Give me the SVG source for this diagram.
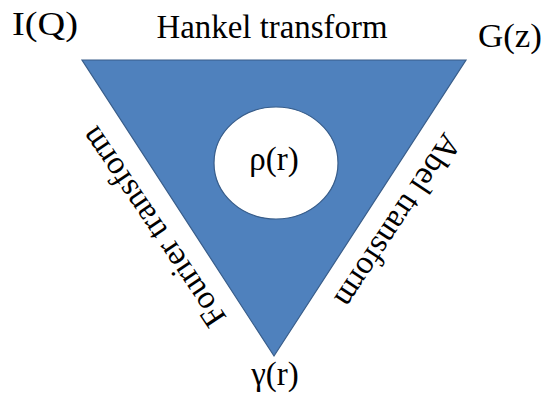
<svg xmlns="http://www.w3.org/2000/svg" width="543" height="394" viewBox="0 0 543 394">
<style>
text{font-family:'Liberation Serif','Times New Roman',serif;font-size:33px;fill:#000;}
.c{text-anchor:middle;}
.shape{fill:#4F81BD;stroke:#385D8A;stroke-width:1.2;}
</style>
<rect width="543" height="394" fill="#fff"/>
<g id="triangle"><polygon class="shape" points="82,60 466,60 274,356"/></g>
<g id="rho"><ellipse cx="276" cy="163" rx="62" ry="56" fill="#fff" stroke="#385D8A" stroke-width="1.2"/><text class="c" x="274" y="170">ρ(r)</text></g>
<g id="IQ"><text x="12" y="35" textLength="66" lengthAdjust="spacingAndGlyphs">I(Q)</text></g>
<g id="Gz"><text x="478" y="47" textLength="64" lengthAdjust="spacingAndGlyphs">G(z)</text></g>
<g id="gamma"><text class="c" x="275" y="385">γ(r)</text></g>
<g id="connectors">
<text class="c" x="272" y="38" textLength="231" lengthAdjust="spacingAndGlyphs">Hankel transform</text>
<text class="c" transform="translate(162,221) rotate(-124)">Fourier transform</text>
<text class="c" transform="translate(389,215) rotate(123.5)">Abel transform</text>
</g>
</svg>
